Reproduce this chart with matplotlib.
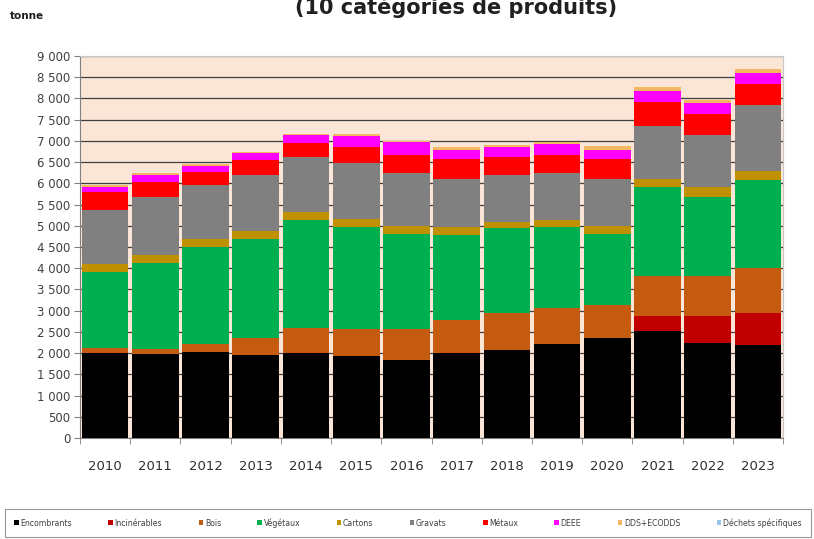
import matplotlib.pyplot as plt
import numpy as np

# Years and tonnages per category
years = ['2010', '2011', '2012', '2013', '2014', '2015', '2016',
         '2017', '2018', '2019', '2020', '2021', '2022', '2023']

encombrants = [1995, 1990, 2035, 1955, 2000, 1930, 1840, 1995, 2075, 2215, 2350, 2530, 2245, 2190]
incinerables = [0, 0, 0, 0, 0, 0, 0, 0, 0, 0, 0, 345, 630, 760]
bois = [120, 100, 180, 390, 585, 650, 725, 785, 880, 840, 785, 945, 945, 1045]
vegetaux = [1805, 2025, 2275, 2335, 2550, 2395, 2245, 2005, 1990, 1925, 1675, 2105, 1870, 2095]
cartons = [180, 195, 190, 205, 195, 175, 190, 195, 155, 155, 190, 175, 235, 205]
gravats = [1270, 1375, 1280, 1310, 1280, 1320, 1240, 1115, 1100, 1115, 1100, 1255, 1220, 1545]
metaux = [430, 355, 315, 355, 330, 395, 430, 470, 415, 415, 470, 570, 495, 510]
deee = [120, 155, 135, 155, 195, 250, 315, 220, 235, 260, 205, 260, 250, 250]
dds = [40, 40, 40, 25, 25, 45, 25, 65, 50, 55, 95, 95, 65, 105]
specifiques = [0, 0, 0, 0, 0, 0, 0, 0, 0, 0, 0, 0, 0, 0]

labels = ['Encombrants', 'Incinérables', 'Bois', 'Végétaux', 'Cartons', 'Gravats',
          'Métaux', 'DEEE', 'DDS+ECODDS', 'Déchets spécifiques']
colors = ['#000000', '#C00000', '#C55A11', '#00B050', '#BF9000', '#808080',
          '#FF0000', '#FF00FF', '#F4B860', '#9DC3E6']
series = [encombrants, incinerables, bois, vegetaux, cartons, gravats,
          metaux, deee, dds, specifiques]

fig = plt.figure(figsize=(8.14, 5.39), dpi=100)
ax = fig.add_axes([0.0983, 0.1874, 0.8637, 0.7086])
ax.set_facecolor('#FBE5D6')

x = np.arange(len(years))
bottom = np.zeros(len(years))
for vals, lab, col in zip(series, labels, colors):
    ax.bar(x, vals, width=0.93, bottom=bottom, color=col, label=lab, zorder=3)
    bottom += np.array(vals)

# axes and grid
ax.set_xlim(-0.5, len(years) - 0.5)
ax.set_ylim(0, 9000)
yt = np.arange(0, 9001, 500)
ax.set_yticks(yt)
ax.set_yticklabels([f'{v:,}'.replace(',', ' ') for v in yt], fontsize=8.5, color='#404040')
ax.yaxis.grid(True, color='#404040', linewidth=0.9, zorder=1)
ax.set_xticks(x)
ax.set_xticklabels(years, fontsize=9.5, color='#303030')
ax.set_xticks(np.arange(-0.5, len(years), 1), minor=True)
ax.tick_params(axis='x', which='major', length=0, pad=16)
ax.tick_params(axis='x', which='minor', length=4, color='#808080')
ax.tick_params(axis='y', length=4, color='#808080', pad=3)
for side in ['top', 'right']:
    ax.spines[side].set_color('#C8C8C8')
ax.spines['left'].set_color('#808080')
ax.spines['bottom'].set_color('#808080')

# titles (first title line is cropped in the original)
fig.text(0.56, 1.0 + 3 / 539, '(10 catégories de produits)', ha='center', va='top',
         fontsize=15, fontweight='bold', color='#202020')
fig.text(0.012, 1 - 16 / 539, 'tonne', ha='left', va='center', fontsize=7.5,
         fontweight='bold', color='#202020')

# legend in a box at the bottom
leg = fig.legend(loc='lower center', ncol=10, fontsize=5.6,
                 frameon=True, fancybox=False, edgecolor='#808080', handlelength=0.6,
                 handleheight=0.6, handletextpad=0.2, columnspacing=2.2,
                 borderpad=1.2, borderaxespad=0, mode='expand')
leg.set_bbox_to_anchor((0.006, 0.004, 0.99, 0.055), transform=fig.transFigure)
leg.get_frame().set_linewidth(0.8)
for t in leg.get_texts():
    t.set_color('#404040')

fig.savefig('out.png', dpi=100)
